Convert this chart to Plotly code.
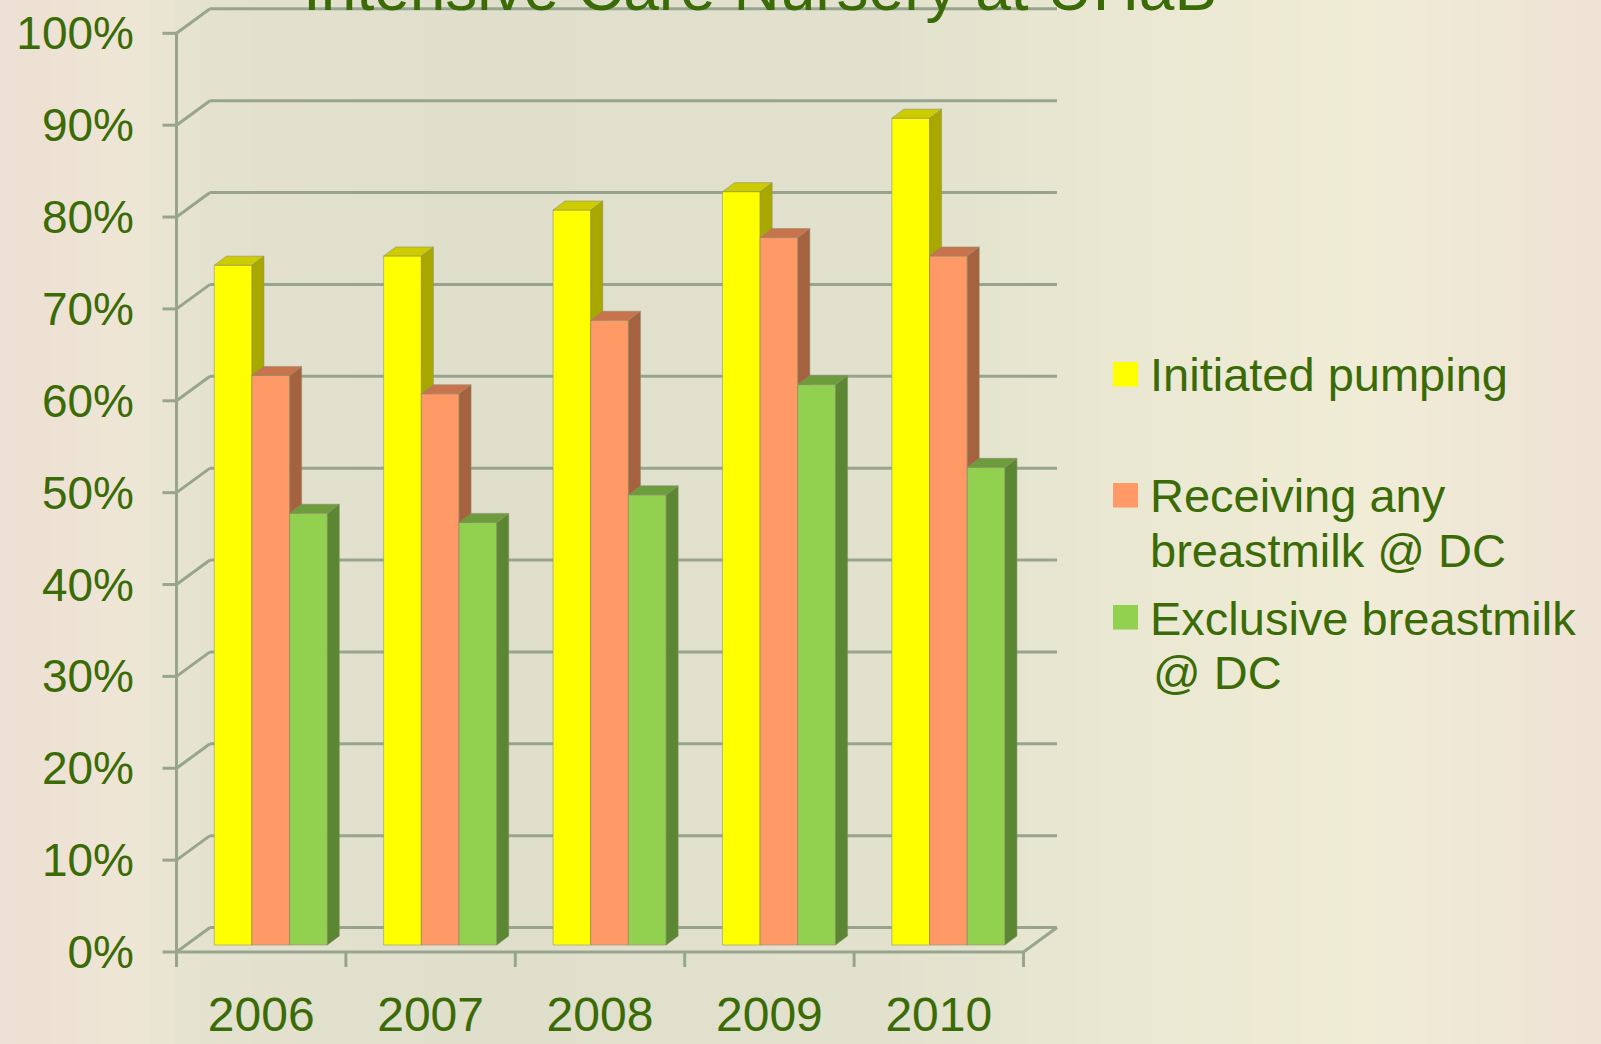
import plotly.graph_objects as go

# ---------------- data ----------------
years = ["2006", "2007", "2008", "2009", "2010"]
initiated_pumping = [74, 75, 80, 82, 90]
receiving_any = [62, 60, 68, 77, 75]
exclusive_bm = [47, 46, 49, 61, 52]
series_names = ["Initiated pumping", "Receiving any breastmilk @ DC", "Exclusive breastmilk @ DC"]
legend_lines = [["Initiated pumping"], ["Receiving any", "breastmilk @ DC"], ["Exclusive breastmilk", "@ DC"]]
y_ticks = [0, 10, 20, 30, 40, 50, 60, 70, 80, 90, 100]
title_text = "Intensive Care Nursery at UHaB"

# ---------------- styling / geometry ----------------
FONT = "Liberation Sans, Arial, sans-serif"
TXT = "#3a6b07"
GRID = "#97a58f"
FIG_W, FIG_H = 1601, 1044
L, R, T, B = 155, 531, 0, 69
PW, PH = FIG_W - L - R, FIG_H - T - B
PXX = 169.4     # px per category unit
PXY = 9.187     # px per percent
X0_PIX = 176.5  # pixel of the front-left corner (x = -0.5)
Y0_PIX = 952.0  # pixel of 0% on the front plane

x_lo = -0.5 - (X0_PIX - L) / PXX
x_hi = x_lo + PW / PXX
y_hi = (Y0_PIX - T) / PXY
y_lo = y_hi - PH / PXY

# 3-D projection offsets (in axis units)
WDX, WDY = 33.5 / PXX, 24.5 / PXY        # full wall depth
BFX, BFY = 9.6 / PXX, 7.0 / PXY          # bar front plane
BDX, BDY = 12.0 / PXX, 9.0 / PXY         # bar depth
BW = 37.7 / PXX                          # bar width
TICK_H, TICK_V = 14.0 / PXX, 15.0 / PXY

colors = [
    dict(front="#FFFF00", side="#A8A800", top="#CCCC00"),
    dict(front="#FF9966", side="#A5623F", top="#C8734C"),
    dict(front="#92D050", side="#5B8732", top="#6C9C3C"),
]
all_series = [initiated_pumping, receiving_any, exclusive_bm]
n_cat = len(years)

fig = go.Figure()

# ---------------- background gradient ----------------
bg_stops = [(0.0, (237, 223, 212)), (0.08, (238, 230, 213)), (0.13, (228, 226, 207)),
            (0.3, (223, 223, 204)), (0.55, (225, 225, 205)), (0.7, (234, 232, 210)),
            (0.85, (240, 236, 214)), (1.0, (239, 226, 214))]


def bg_color(f):
    for (a, ca), (b, cb) in zip(bg_stops[:-1], bg_stops[1:]):
        if a <= f <= b:
            t = (f - a) / (b - a)
            return "rgb(%d,%d,%d)" % tuple(round(ca[k] + (cb[k] - ca[k]) * t) for k in range(3))
    return "rgb(%d,%d,%d)" % bg_stops[-1][1]


def px_x(p):
    return (p - L) / PW


def px_y(p):
    return (T + PH - p) / PH


shapes = []
NSTRIP = 64
for s in range(NSTRIP):
    a, b = s / NSTRIP * FIG_W, (s + 1) / NSTRIP * FIG_W
    shapes.append(dict(type="rect", xref="paper", yref="paper", layer="below",
                       x0=px_x(a), x1=px_x(b + 1), y0=px_y(FIG_H + 2), y1=px_y(-2),
                       fillcolor=bg_color((s + 0.5) / NSTRIP), line=dict(width=0)))

# ---------------- axes frame / gridlines ----------------
gx, gy = [], []
x_left, x_right = -0.5, n_cat - 0.5
for t in y_ticks:
    # back wall
    gx += [x_left + WDX, x_right + WDX, None]
    gy += [t + WDY, t + WDY, None]
    # side wall diagonal
    gx += [x_left, x_left + WDX, None]
    gy += [t, t + WDY, None]
    # y ticks
    gx += [x_left - TICK_H, x_left, None]
    gy += [t, t, None]
# front vertical axis
gx += [x_left, x_left, None]
gy += [-TICK_V, y_ticks[-1], None]
# floor front edge and right edge
gx += [x_left, x_right, x_right + WDX, None]
gy += [0, 0, WDY, None]
# x boundary ticks
for k in range(n_cat + 1):
    bx = x_left + k
    gx += [bx, bx, None]
    gy += [0, -TICK_V, None]

fig.add_trace(go.Scatter(x=gx, y=gy, mode="lines", line=dict(color=GRID, width=3),
                         hoverinfo="skip", showlegend=False))

# ---------------- 3-D bars ----------------
for j, (vals, col, name) in enumerate(zip(all_series, colors, series_names)):
    fx, fy, sx, sy, tx, ty = [], [], [], [], [], []
    for i, v in enumerate(vals):
        xl = i - 1.5 * BW + j * BW + BFX
        xr = xl + BW
        yb = BFY
        yt = BFY + v
        fx += [xl, xr, xr, xl, xl, None]
        fy += [yb, yb, yt, yt, yb, None]
        sx += [xr, xr + BDX, xr + BDX, xr, xr, None]
        sy += [yb, yb + BDY, yt + BDY, yt, yb, None]
        tx += [xl, xr, xr + BDX, xl + BDX, xl, None]
        ty += [yt, yt, yt + BDY, yt + BDY, yt, None]
    edge = dict(color="rgba(140,140,110,0.55)", width=1)
    fig.add_trace(go.Scatter(x=fx, y=fy, fill="toself", fillcolor=col["front"], mode="lines",
                             line=edge, name=name, showlegend=False, hoverinfo="skip"))
    fig.add_trace(go.Scatter(x=sx, y=sy, fill="toself", fillcolor=col["side"], mode="lines",
                             line=edge, showlegend=False, hoverinfo="skip"))
    fig.add_trace(go.Scatter(x=tx, y=ty, fill="toself", fillcolor=col["top"], mode="lines",
                             line=edge, showlegend=False, hoverinfo="skip"))

# ---------------- legend (manual, large swatches) ----------------
annotations = []
sw_tops = [362, 483, 605]
line_baselines = [[390.7], [511.7, 566.7], [634.0, 688.3]]
line_x = [[1150], [1150, 1150], [1150, 1153]]
for k in range(3):
    shapes.append(dict(type="rect", xref="paper", yref="paper",
                       x0=px_x(1113), x1=px_x(1138), y0=px_y(sw_tops[k] + 24.5), y1=px_y(sw_tops[k]),
                       fillcolor=colors[k]["front"], line=dict(width=0)))
    for line, bl, lx in zip(legend_lines[k], line_baselines[k], line_x[k]):
        annotations.append(dict(text=line, xref="paper", yref="paper", x=px_x(lx - 2),
                                y=px_y(bl - 16), xanchor="left", yanchor="middle", showarrow=False,
                                font=dict(family=FONT, size=47, color=TXT)))

# title (cut off at top as in the reference)
annotations.append(dict(text=title_text, xref="paper", yref="paper", x=px_x(760), y=px_y(-12),
                        xanchor="center", yanchor="middle", showarrow=False,
                        font=dict(family=FONT, size=64, color=TXT)))

fig.update_layout(
    width=FIG_W, height=FIG_H, autosize=False,
    margin=dict(l=L, r=R, t=T, b=B, pad=0, autoexpand=False),
    paper_bgcolor="rgb(230,228,208)", plot_bgcolor="rgba(0,0,0,0)",
    shapes=shapes, annotations=annotations, showlegend=False,
    xaxis=dict(range=[x_lo, x_hi], showgrid=False, zeroline=False, showline=False,
               automargin=False,
               tickmode="array", tickvals=list(range(n_cat)), ticktext=years, ticks="",
               ticklabelstandoff=7,
               tickfont=dict(family=FONT, size=48, color=TXT), fixedrange=True),
    yaxis=dict(range=[y_lo, y_hi], showgrid=False, zeroline=False, showline=False,
               automargin=False,
               tickmode="array", tickvals=y_ticks, ticktext=[f"{t}%" for t in y_ticks], ticks="",
               ticklabelstandoff=20,
               tickfont=dict(family=FONT, size=46, color=TXT), fixedrange=True),
)

fig.write_html("out.html", config={"displayModeBar": False},
               post_script="document.body.style.margin='0';document.body.style.overflow='hidden';")
